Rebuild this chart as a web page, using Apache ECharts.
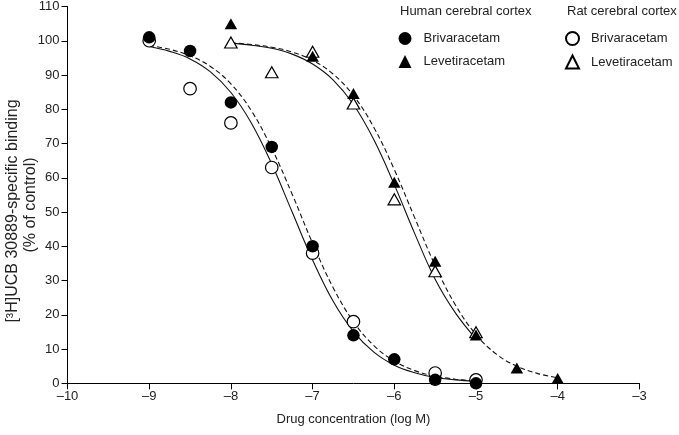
<!DOCTYPE html>
<html>
<head>
<meta charset="utf-8">
<script src="https://cdn.jsdelivr.net/npm/echarts@6/dist/echarts.min.js"></script>
<style>
html,body{margin:0;padding:0;background:#fff;}
#chart{width:679px;height:435px;}
</style>
</head>
<body>
<div id="chart"></div>
<script>
// ---- data ----
const xTicks = [-10, -9, -8, -7, -6, -5, -4, -3];
const yTicks = [0, 10, 20, 30, 40, 50, 60, 70, 80, 90, 100, 110];

// measured points (log M, % of control)
const humanBrivX = [-9, -8.5, -8, -7.5, -7, -6.5, -6, -5.5, -5];
const humanBrivY = [101, 97, 82, 69, 40, 14, 7, 1, 0];
const ratBrivX = [-9, -8.5, -8, -7.5, -7, -6.5, -5.5, -5];
const ratBrivY = [100, 86, 76, 63, 38, 18, 3, 1];
const humanLevX = [-8, -7, -6.5, -6, -5.5, -5, -4.5, -4];
const humanLevY = [105, 95.5, 84.6, 58.7, 35.6, 14.1, 4.5, 1.4];
const ratLevX = [-8, -7.5, -7, -6.5, -6, -5.5, -5];
const ratLevY = [99.5, 90.8, 96.8, 81.7, 53.7, 32.7, 14.9];

// fitted curves
const brivCurveX = [-9, -8.75, -8.5, -8.25, -8, -7.75, -7.5, -7.25, -7, -6.75, -6.5, -6.25, -6, -5.75, -5.5, -5.25, -5];
const humanBrivCurve = [98.6, 97.5, 95.6, 92.5, 87.4, 79.6, 68.6, 55.2, 40.9, 28.0, 18.0, 11.0, 6.5, 3.7, 2.1, 1.2, 0.7];
const ratBrivCurve = [98.3, 96.9, 94.7, 90.9, 84.9, 76.0, 64.0, 50.0, 36.0, 24.0, 15.1, 9.1, 5.3, 3.1, 1.7, 1.0, 0.6];
const humanLevCurveX = [-8, -7.75, -7.5, -7.25, -7, -6.75, -6.5, -6.25, -6, -5.75, -5.5, -5.25, -5, -4.75, -4.5, -4.25, -4];
const humanLevCurve = [99.4, 98.9, 98.1, 96.7, 94.3, 90.3, 84.0, 74.7, 62.4, 48.3, 34.4, 22.8, 14.2, 8.5, 5.0, 2.9, 1.6];
const ratLevCurveX = [-8, -7.75, -7.5, -7.25, -7, -6.75, -6.5, -6.25, -6, -5.75, -5.5, -5.25, -5];
const ratLevCurve = [99.3, 98.7, 97.8, 96.1, 93.2, 88.6, 81.4, 71.1, 58.0, 43.7, 30.4, 20.5, 13.0];

const zip = (xs, ys) => xs.map((x, i) => [x, ys[i]]);
const FONT = 'Liberation Sans, Arial, sans-serif';
const TXT = '#222';

const chart = echarts.init(document.getElementById('chart'), null, {renderer: 'canvas'});

function curve(name, xs, ys, dashed) {
  return {
    name: name, type: 'line', data: zip(xs, ys), smooth: 0.4, symbol: 'none',
    lineStyle: {color: '#111', width: 1.1, type: dashed ? [5, 3] : 'solid'},
    z: 1, silent: true, legendHoverLink: false
  };
}
function pts(name, xs, ys, symbol, filled, z) {
  return {
    name: name, type: 'scatter', data: zip(xs, ys), symbol: symbol,
    symbolSize: symbol === 'circle' ? 12.5 : [12.5, 11],
    itemStyle: {color: filled ? '#000' : '#fff', borderColor: '#000', borderWidth: filled ? 0 : 1.2, opacity: 1},
    z: z
  };
}

const option = {
  backgroundColor: '#fff',
  animation: false,
  textStyle: {fontFamily: FONT},
  grid: {left: 67.5, right: 39.6, top: 5.7, bottom: 51.7, containLabel: false},
  title: [
    {text: 'Human cerebral cortex', left: 400, top: 5, padding: 0,
     textStyle: {fontSize: 13, fontWeight: 'normal', color: TXT, fontFamily: FONT}},
    {text: 'Rat cerebral cortex', left: 567, top: 5, padding: 0,
     textStyle: {fontSize: 13, fontWeight: 'normal', color: TXT, fontFamily: FONT}}
  ],
  legend: [
    {data: ['Brivaracetam', 'Levetiracetam'], orient: 'vertical', left: 398.5, top: 32,
     padding: 0, itemGap: 10, itemWidth: 13, itemHeight: 13,
     textStyle: {fontSize: 13, color: TXT, fontFamily: FONT, padding: [0, 0, 0, 7], lineHeight: 13},
     selectedMode: false},
    {data: ['Brivaracetam ', 'Levetiracetam '], orient: 'vertical', left: 565, top: 31,
     padding: 0, itemGap: 8.5, itemWidth: 13, itemHeight: 13,
     formatter: n => n.trim(),
     textStyle: {fontSize: 13, color: TXT, fontFamily: FONT, padding: [0, 0, 0, 7], lineHeight: 13},
     selectedMode: false}
  ],
  xAxis: {
    type: 'value', min: xTicks[0], max: xTicks[xTicks.length - 1], interval: 1,
    name: 'Drug concentration (log M)', nameLocation: 'middle', nameGap: 30,
    nameTextStyle: {fontSize: 13, color: TXT, fontFamily: FONT},
    axisLine: {show: true, onZero: false, lineStyle: {color: '#000', width: 1}},
    axisTick: {show: true, length: 6, lineStyle: {color: '#000'}},
    axisLabel: {fontSize: 13, color: TXT, margin: 7, fontFamily: FONT,
      formatter: v => String(v).replace('-', '\u2013')},
    splitLine: {show: false}
  },
  yAxis: {
    type: 'value', min: yTicks[0], max: yTicks[yTicks.length - 1], interval: 10,
    axisLine: {show: true, onZero: false, lineStyle: {color: '#000', width: 1}},
    axisTick: {show: true, length: 6, lineStyle: {color: '#000'}},
    axisLabel: {fontSize: 13, color: TXT, margin: 8, fontFamily: FONT},
    splitLine: {show: false}
  },
  graphic: [
    {type: 'text', x: 13, y: 211, rotation: Math.PI / 2,
     style: {text: '[\u00B3H]UCB 30889-specific binding', fontSize: 16,
       fontFamily: FONT, fill: TXT, align: 'center', verticalAlign: 'middle'}},
    {type: 'text', x: 30.5, y: 205, rotation: Math.PI / 2,
     style: {text: '(% of control)', fontSize: 16,
       fontFamily: FONT, fill: TXT, align: 'center', verticalAlign: 'middle'}}
  ],
  series: [
    curve('ratBrivCurve', brivCurveX, ratBrivCurve, false),
    curve('humanBrivCurve', brivCurveX, humanBrivCurve, true),
    curve('ratLevCurve', ratLevCurveX, ratLevCurve, false),
    curve('humanLevCurve', humanLevCurveX, humanLevCurve, true),
    pts('Brivaracetam ', ratBrivX, ratBrivY, 'circle', false, 3),
    pts('Levetiracetam ', ratLevX, ratLevY, 'triangle', false, 3),
    pts('Brivaracetam', humanBrivX, humanBrivY, 'circle', true, 4),
    pts('Levetiracetam', humanLevX, humanLevY, 'triangle', true, 4)
  ]
};
chart.setOption(option);
</script>
</body>
</html>
